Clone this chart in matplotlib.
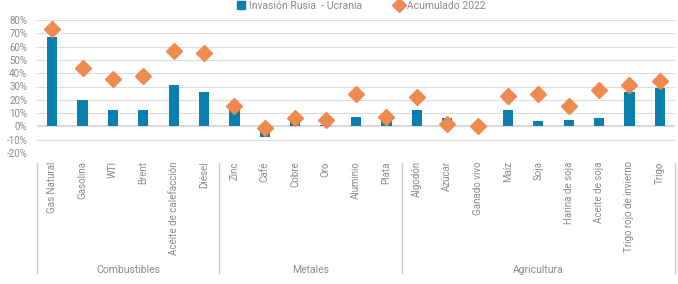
import matplotlib
matplotlib.use("Agg")
import matplotlib.pyplot as plt
import matplotlib.transforms as mtransforms
from matplotlib.lines import Line2D
import numpy as np

categories = ["Gas Natural", "Gasolina", "WTI", "Brent", "Aceite de calefacción", "Diésel",
              "Zinc", "Café", "Cobre", "Oro", "Aluminio", "Plata",
              "Algodón", "Azúcar", "Ganado vivo", "Maíz", "Soja", "Harina de soja",
              "Aceite de soja", "Trigo rojo de invierno", "Trigo"]
invasion = [67, 20, 12, 12, 31, 26,
            13, -8, 4, 1, 7, 4.5,
            12, 6, 0, 12, 4, 5,
            6, 26, 29]
acumulado = [73, 44, 36, 38, 57, 55,
             15, -1, 6, 5, 24.5, 7,
             22, 2, 0, 23, 24.5, 15,
             27, 31, 34.5]
groups = ["Combustibles", "Metales", "Agricultura"]
group_sizes = [6, 6, 9]
yticks = [-20, -10, 0, 10, 20, 30, 40, 50, 60, 70, 80]

blue = "#0a7fab"
orange = "#ee8a4e"
grey = "#8a8a8a"
plt.rcParams['font.family'] = ['Roboto', 'DejaVu Sans']

fig = plt.figure(figsize=(6.78, 2.84), dpi=100)
ax = fig.add_axes([37/678, (284-153)/284, (675-37)/678, (153-20)/284])
x = np.arange(len(categories))
ax.bar(x, invasion, width=0.34, color=blue, zorder=2)
ax.plot(x, acumulado, linestyle='none', marker='D', markersize=7.8, color=orange, zorder=3)

ax.set_xlim(-0.5, len(categories) - 0.5)
ax.set_ylim(-20, 80)
ax.set_yticks(yticks)
ax.set_yticklabels([f"{v}%" for v in yticks], color=grey, fontsize=7)
ax.tick_params(axis='y', length=0, pad=7)
ax.grid(axis='y', color='#dcdcdc', linewidth=0.8, zorder=0)
ax.axhline(0, color='#cfcfcf', linewidth=1.2, zorder=1)
for s in ax.spines.values():
    s.set_visible(False)
ax.set_xticks(x)
ax.set_xticklabels(categories, rotation=90, va='top', ha='center', color=grey, fontsize=7)
ax.tick_params(axis='x', length=0, pad=6)

# group separators and labels
trans = mtransforms.blended_transform_factory(ax.transData, fig.transFigure)
y0 = (284-163)/284
y1 = (284-273)/284
bounds = np.cumsum([0] + group_sizes) - 0.5
for b in bounds:
    ax.add_line(Line2D([b, b], [y0, y1], transform=trans, color='#cccccc', linewidth=1, clip_on=False))
for i, g in enumerate(groups):
    cx = (bounds[i] + bounds[i+1]) / 2
    ax.text(cx, (284-270)/284, g, transform=trans, ha='center', va='center', color=grey, fontsize=7.5)

handles = [Line2D([], [], linestyle='none', marker='s', markersize=6, color=blue),
           Line2D([], [], linestyle='none', marker='D', markersize=7, color=orange)]
fig.legend(handles, ["Invasión Rusia  - Ucrania", "Acumulado 2022"], loc='upper center',
           bbox_to_anchor=(0.532, 1.03), ncol=2, frameon=False, fontsize=7.5,
           labelcolor=grey, handletextpad=0.3, columnspacing=3, handlelength=1)

fig.savefig("out.png", dpi=100)
